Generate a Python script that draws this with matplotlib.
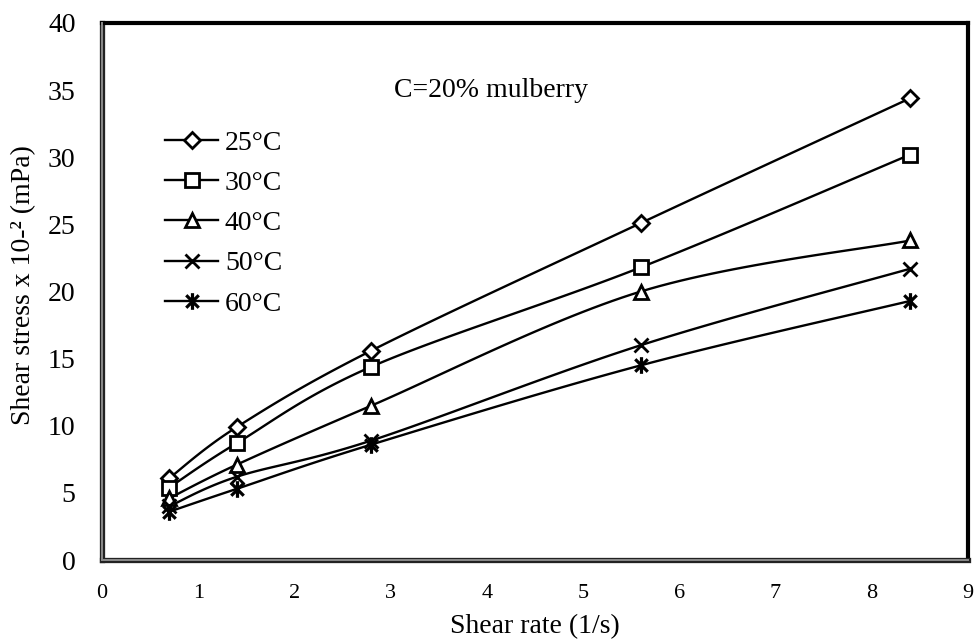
import numpy as np
import matplotlib
matplotlib.use("Agg")
import matplotlib.pyplot as plt
from matplotlib.path import Path
from matplotlib.lines import Line2D

plt.rcParams['font.family'] = ['Liberation Serif', 'DejaVu Serif']

shear_rate = [0.7, 1.4, 2.8, 5.6, 8.4]
stress_25 = [6.1, 9.9, 15.6, 25.1, 34.4]
stress_30 = [5.4, 8.7, 14.4, 21.8, 30.2]
stress_40 = [4.6, 7.1, 11.5, 20.0, 23.8]
stress_50 = [4.0, 6.2, 8.9, 16.0, 21.7]
stress_60 = [3.6, 5.3, 8.6, 14.5, 19.3]
labels = ['25°C', '30°C', '40°C', '50°C', '60°C']

# asterisk marker: a vertical stroke plus an X
star = Path([(0, -1), (0, 1), (-0.75, -0.75), (0.75, 0.75), (-0.75, 0.75), (0.75, -0.75)],
            [Path.MOVETO, Path.LINETO, Path.MOVETO, Path.LINETO, Path.MOVETO, Path.LINETO])
markers = ['D', 's', '^', 'x', star]
msizes = [8, 10, 10, 10, 12]
mews = [2.0, 2.0, 2.0, 2.0, 2.3]


def smooth(x, y, sx=96.4, sy=13.43, n=30):
    """Cubic Bezier smoothing through the points (Catmull-Rom style control points)."""
    p = np.column_stack([np.asarray(x) * sx, np.asarray(y) * sy])
    out = []
    for i in range(len(p) - 1):
        p0 = p[i - 1] if i > 0 else p[i]
        p1, p2 = p[i], p[i + 1]
        p3 = p[i + 2] if i + 2 < len(p) else p[i + 1]
        c1 = p1 + (p2 - p0) / 6
        c2 = p2 - (p3 - p1) / 6
        t = np.linspace(0, 1, n)[:, None]
        seg = (1 - t) ** 3 * p1 + 3 * (1 - t) ** 2 * t * c1 + 3 * (1 - t) * t ** 2 * c2 + t ** 3 * p2
        out.append(seg if i == 0 else seg[1:])
    out = np.vstack(out)
    return out[:, 0] / sx, out[:, 1] / sy


W, H = 975, 644
fig = plt.figure(figsize=(W / 100, H / 100), dpi=100)
x0, x1, y0, y1 = 102, 968, 560, 23
ax = fig.add_axes([x0 / W, 1 - y0 / H, (x1 - x0) / W, (y0 - y1) / H])

series = [stress_25, stress_30, stress_40, stress_50, stress_60]
handles = []
for ys, m, ms, mw, lab in zip(series, markers, msizes, mews, labels):
    sx_, sy_ = smooth(shear_rate, ys)
    ax.plot(sx_, sy_, color='black', lw=1.7, zorder=2)
    ax.plot(shear_rate, ys, linestyle='none', marker=m, ms=ms, mfc='white',
            mec='black', mew=mw, zorder=3)
    handles.append(Line2D([], [], color='black', lw=1.7, marker=m, ms=ms,
                          mfc='white', mec='black', mew=mw, label=lab))

ax.set_xlim(0, 9)
ax.set_ylim(0, 40)
ax.set_xticks(range(0, 10))
ax.set_yticks(range(0, 41, 5))
ax.tick_params(axis='both', length=0)
ax.tick_params(axis='x', labelsize=16, pad=17)
ax.tick_params(axis='y', labelsize=20, pad=19)

for side in ['top', 'right']:
    ax.spines[side].set_linewidth(3)
    ax.spines[side].set_color('black')
for side in ['left', 'bottom']:
    ax.spines[side].set_linewidth(3.8)
    ax.spines[side].set_color('#222222')
# lighter inner stroke on the left and bottom axis lines
ax.plot([0, 0], [0, 1], transform=ax.transAxes, color='#8a8a8a', lw=1.4,
        clip_on=False, zorder=5)
ax.plot([0, 1], [0, 0], transform=ax.transAxes, color='#8a8a8a', lw=1.4,
        clip_on=False, zorder=5)

fig.text((x0 + x1) / 2 / W, 1 - 627 / H, 'Shear rate (1/s)', fontsize=20,
         ha='center', va='center')
fig.text(24 / W, 1 - 285 / H, 'Shear stress x 10-² (mPa)', fontsize=20,
         ha='center', va='center', rotation=90)

ax.text(0.449, 0.875, 'C=20% mulberry', transform=ax.transAxes, fontsize=20,
        ha='center', va='center')

ax.legend(handles=handles, loc='upper left', bbox_to_anchor=(0.073, 0.80),
          frameon=False, fontsize=20, handlelength=1.9, handletextpad=0.25,
          labelspacing=0.53, borderaxespad=0, borderpad=0)

fig.savefig('out.png', dpi=100)
